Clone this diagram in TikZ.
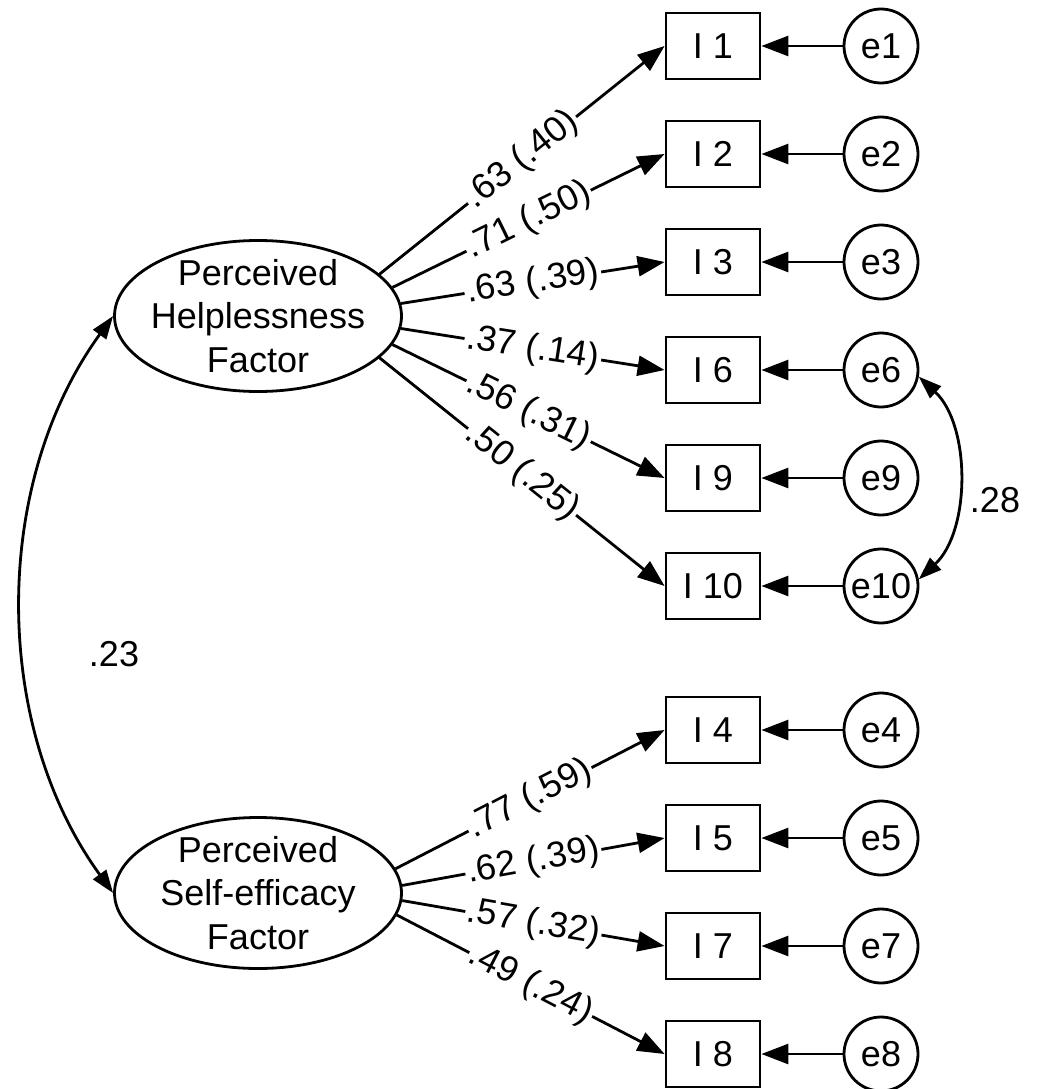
\documentclass[tikz,border=0pt]{standalone}
\usepackage{fontspec}
\setmainfont{Liberation Sans}
\usetikzlibrary{shapes.geometric,arrows.meta}
\begin{document}
\begin{tikzpicture}[x=1pt,y=1pt,line width=2.8pt,
  every node/.style={font=\fontsize{36}{43.5}\selectfont},
  obs/.style={draw,rectangle,minimum width=94pt,minimum height=66pt,inner sep=0pt},
  err/.style={draw,circle,minimum size=74pt,inner sep=0pt},
  lat/.style={draw,ellipse,minimum width=287pt,minimum height=151pt,inner sep=0pt},
  load/.style={-{Triangle[length=27pt,width=20pt]}},
  cov/.style={{Triangle[length=23pt,width=16pt]}-{Triangle[length=23pt,width=16pt]}},
  lbl/.style={sloped,fill=white,inner sep=2pt,pos=0.5}]
\useasboundingbox (0,0) rectangle (1038,-1089);
% latent factors
\node[lat] (h) at (258,-316) {};
\node[align=center] (ht) at (258,-316) {Perceived\\Helplessness\\Factor};
\node[lat] (s) at (258,-893) {};
\node[align=center] (st) at (258,-893) {Perceived\\Self-efficacy\\Factor};
% observed items and errors
\foreach \n/\y in {1/46,2/154,3/262,6/370,9/478,10/586,4/730,5/838,7/946,8/1054}{
  \node[obs] (I\n) at (713,-\y) {I \n};
  \node[err] (e\n) at (881,-\y) {e\n};
  \draw[load] (e\n) -- (I\n);
}
% loadings
\draw[load] (h.19.4) -- node[lbl]{.63 (.40)} (I1.west);
\draw[load] (h.12.9) -- node[lbl]{.71 (.50)} (I2.west);
\draw[load] (h.5.6) -- node[lbl]{.63 (.39)} (I3.west);
\draw[load] (h.-5.6) -- node[lbl]{.37 (.14)} (I6.west);
\draw[load] (h.-12.9) -- node[lbl]{.56 (.31)} (I9.west);
\draw[load] (h.-19.4) -- node[lbl]{.50 (.25)} (I10.west);
\draw[load] (s.10) -- node[lbl]{.77 (.59)} (I4.west);
\draw[load] (s.3.2) -- node[lbl]{.62 (.39)} (I5.west);
\draw[load] (s.-3) -- node[lbl]{.57 (.32)} (I7.west);
\draw[load] (s.-9.5) -- node[lbl]{.49 (.24)} (I8.west);
% covariances
\draw[cov] (h.west) to[bend right=36,looseness=0.92] (s.west);
\node (c23) at (114,-654) {.23};
\draw[cov] (e6.-10) to[bend left=47,looseness=0.9] (e10.10);
\node (c28) at (995,-500) {.28};
\end{tikzpicture}
\end{document}
